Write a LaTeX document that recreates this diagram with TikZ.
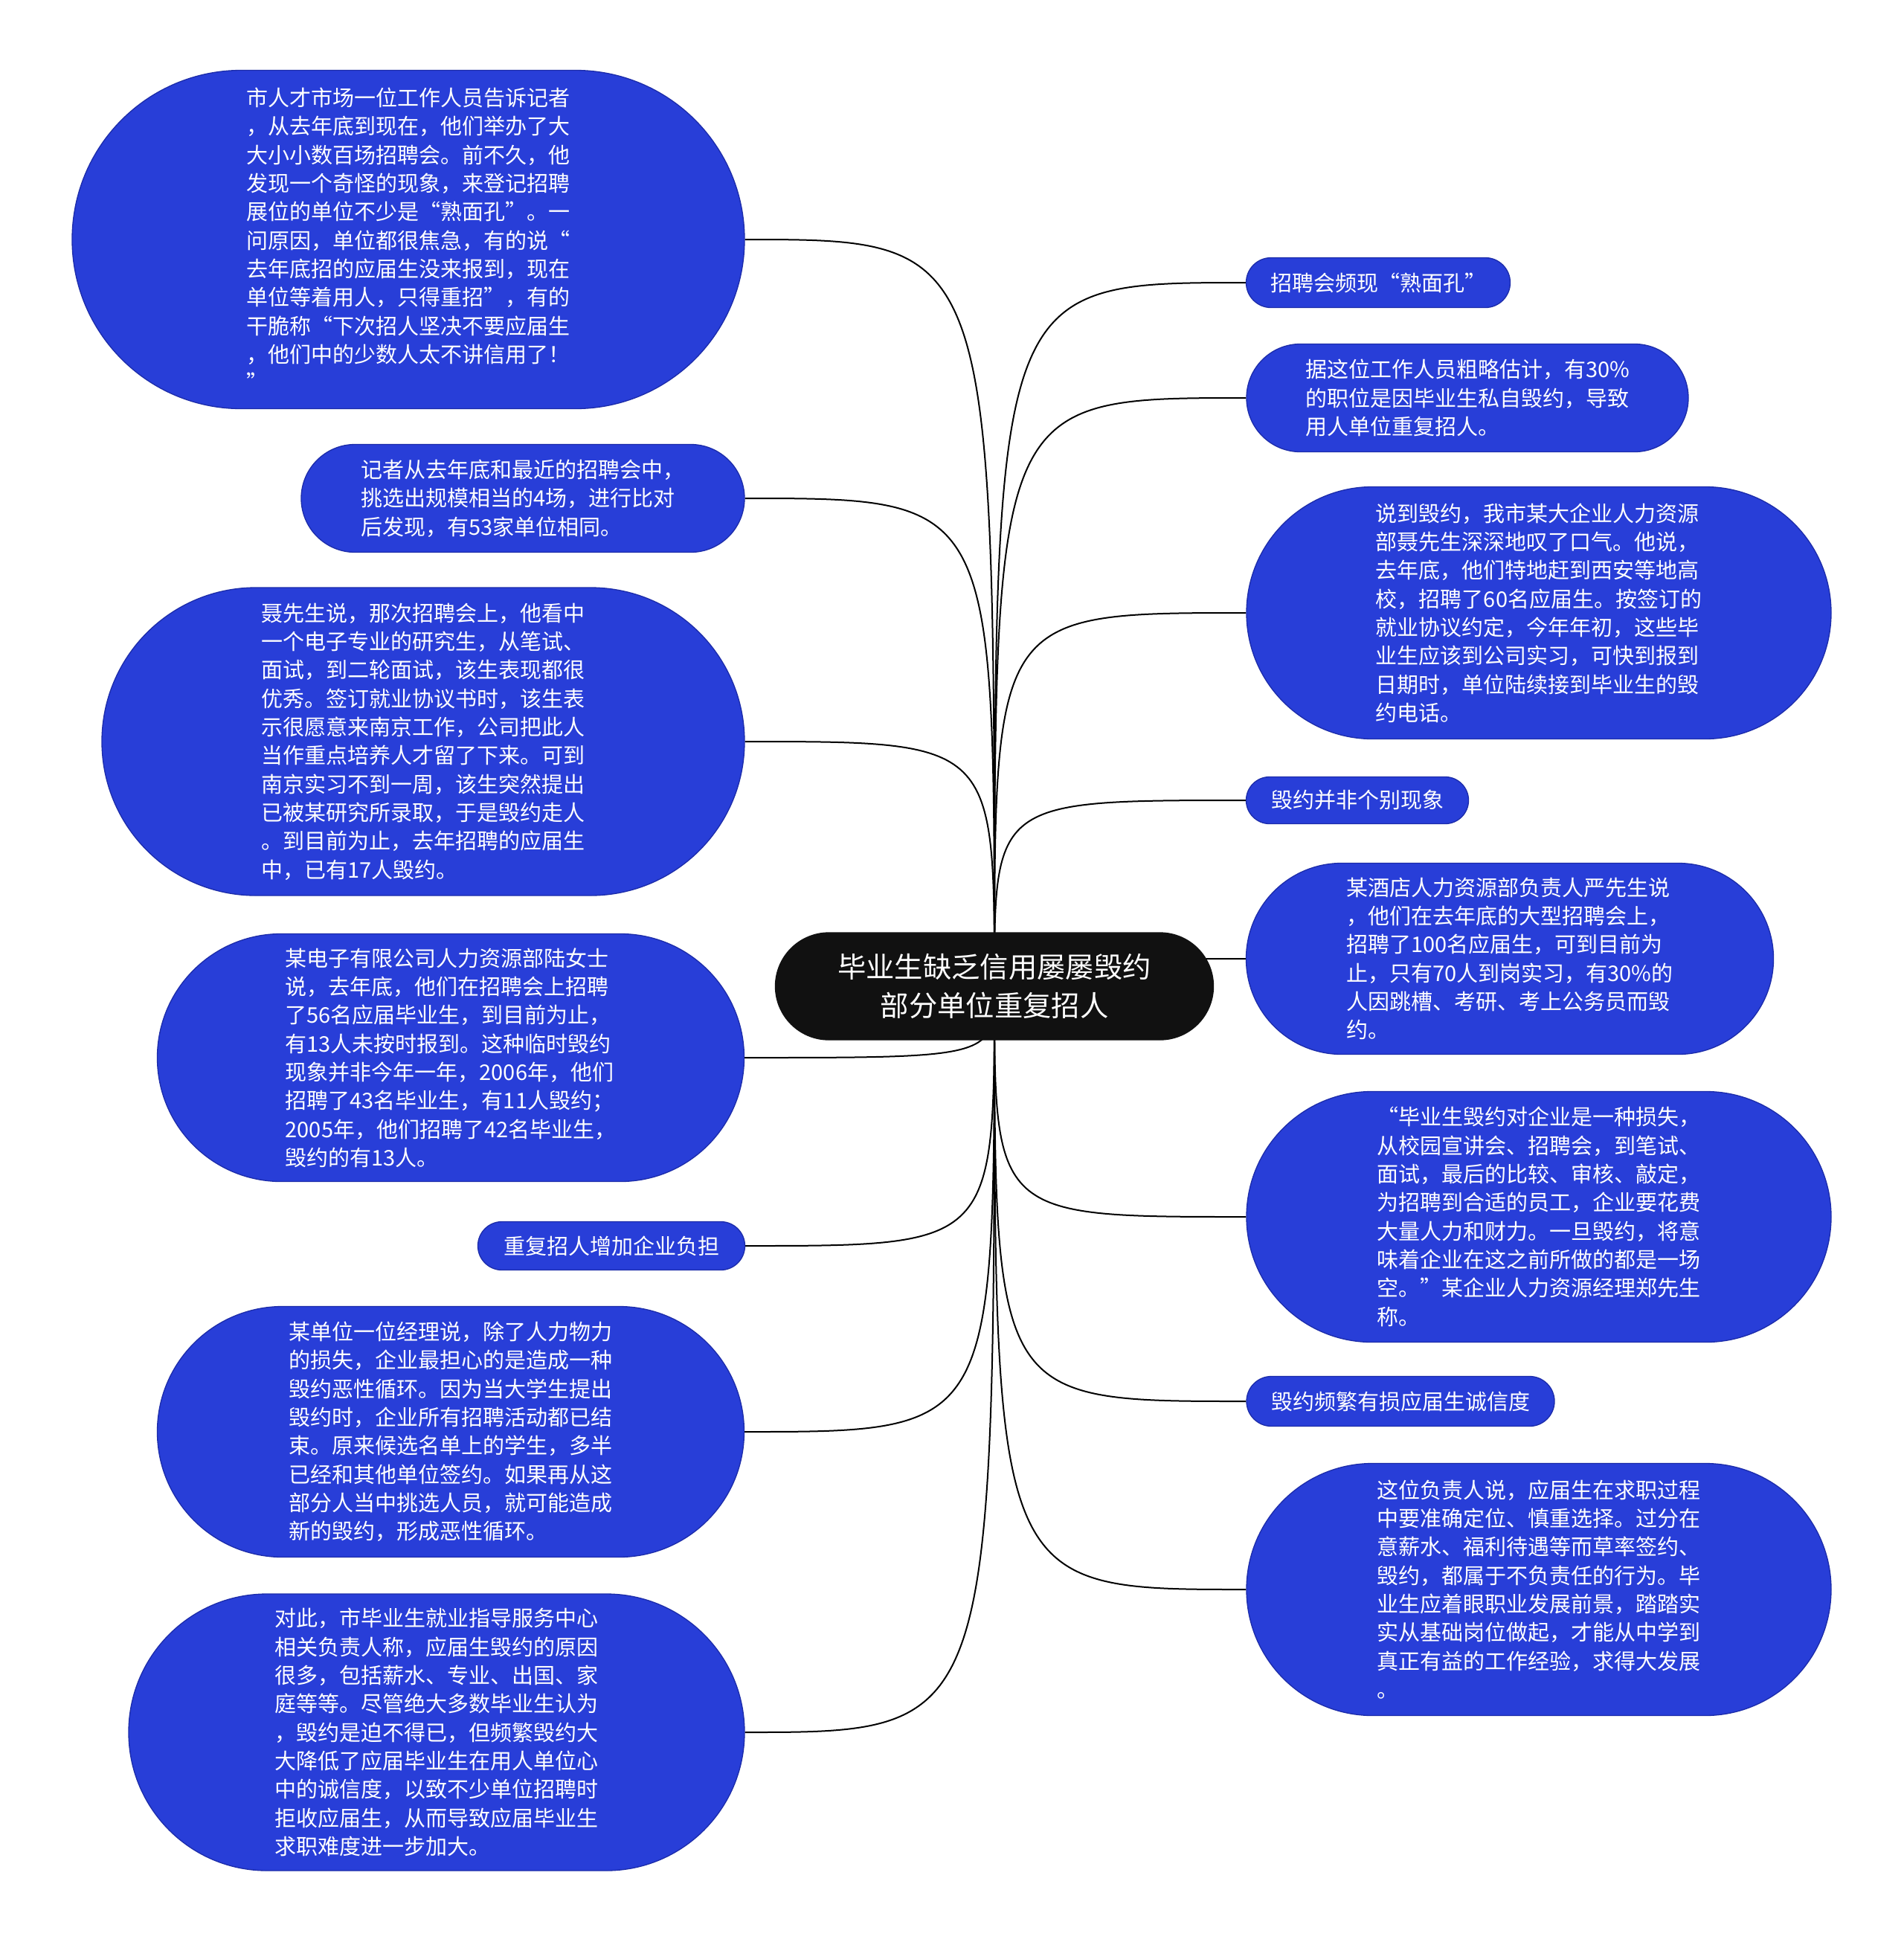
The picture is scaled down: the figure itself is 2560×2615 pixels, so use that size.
\documentclass[tikz,border=0pt]{standalone}
\usepackage{fontspec}
\setmainfont{Noto Sans CJK SC}
\usetikzlibrary{shapes.misc}
\pgfdeclarelayer{bg}
\pgfsetlayers{bg,main}
\definecolor{nodeblue}{RGB}{40,62,216}
\definecolor{nodeedge}{RGB}{28,44,170}
\definecolor{titlebg}{RGB}{17,17,17}
\begin{document}
\begin{tikzpicture}[x=0.3pt,y=-0.3pt,
  boxsize/.style 2 args={minimum width=#1*0.3pt, minimum height=#2*0.3pt},
  leaf/.style={rounded rectangle, fill=nodeblue, draw=nodeedge, line width=0.4pt, text=white, align=left, inner sep=0pt, font=\fontsize{8.7pt}{11.5pt}\selectfont},
  root/.style={rounded rectangle, fill=titlebg, draw=titlebg, text=white, align=center, inner sep=0pt, font=\fontsize{11.5pt}{15.6pt}\selectfont},
  link/.style={draw=black, line width=0.6pt}]
\useasboundingbox (0,0) rectangle (2560,2615);

\node[root, boxsize={589}{144}] (c) at (1337,1326) {毕业生缺乏信用屡屡毁约\\部分单位重复招人};

% left side
\node[leaf, boxsize={904}{455}] (L1) at (549,322) {市人才市场一位工作人员告诉记者\\，从去年底到现在，他们举办了大\\大小小数百场招聘会。前不久，他\\发现一个奇怪的现象，来登记招聘\\展位的单位不少是“熟面孔”。一\\问原因，单位都很焦急，有的说“\\去年底招的应届生没来报到，现在\\单位等着用人，只得重招”，有的\\干脆称“下次招人坚决不要应届生\\，他们中的少数人太不讲信用了！\\”};
\node[leaf, boxsize={596}{145}] (L2) at (703,670) {记者从去年底和最近的招聘会中，\\挑选出规模相当的4场，进行比对\\后发现，有53家单位相同。};
\node[leaf, boxsize={864}{414}] (L3) at (569,997) {聂先生说，那次招聘会上，他看中\\一个电子专业的研究生，从笔试、\\面试，到二轮面试，该生表现都很\\优秀。签订就业协议书时，该生表\\示很愿意来南京工作，公司把此人\\当作重点培养人才留了下来。可到\\南京实习不到一周，该生突然提出\\已被某研究所录取，于是毁约走人\\。到目前为止，去年招聘的应届生\\中，已有17人毁约。};
\node[leaf, boxsize={789}{333}] (L4) at (606,1422) {某电子有限公司人力资源部陆女士\\说，去年底，他们在招聘会上招聘\\了56名应届毕业生，到目前为止，\\有13人未按时报到。这种临时毁约\\现象并非今年一年，2006年，他们\\招聘了43名毕业生，有11人毁约；\\2005年，他们招聘了42名毕业生，\\毁约的有13人。};
\node[leaf, boxsize={359}{65}] (L5) at (822,1675) {重复招人增加企业负担};
\node[leaf, boxsize={789}{337}] (L6) at (606,1925) {某单位一位经理说，除了人力物力\\的损失，企业最担心的是造成一种\\毁约恶性循环。因为当大学生提出\\毁约时，企业所有招聘活动都已结\\束。原来候选名单上的学生，多半\\已经和其他单位签约。如果再从这\\部分人当中挑选人员，就可能造成\\新的毁约，形成恶性循环。};
\node[leaf, boxsize={828}{372}] (L7) at (587,2329) {对此，市毕业生就业指导服务中心\\相关负责人称，应届生毁约的原因\\很多，包括薪水、专业、出国、家\\庭等等。尽管绝大多数毕业生认为\\，毁约是迫不得已，但频繁毁约大\\大降低了应届毕业生在用人单位心\\中的诚信度，以致不少单位招聘时\\拒收应届生，从而导致应届毕业生\\求职难度进一步加大。};

% right side
\node[leaf, boxsize={355}{67}] (R1) at (1853,380) {招聘会频现“熟面孔”};
\node[leaf, boxsize={594}{145}] (R2) at (1973,535) {据这位工作人员粗略估计，有30\%\\的职位是因毕业生私自毁约，导致\\用人单位重复招人。};
\node[leaf, boxsize={786}{339}] (R3) at (2069,824) {说到毁约，我市某大企业人力资源\\部聂先生深深地叹了口气。他说，\\去年底，他们特地赶到西安等地高\\校，招聘了60名应届生。按签订的\\就业协议约定，今年年初，这些毕\\业生应该到公司实习，可快到报到\\日期时，单位陆续接到毕业生的毁\\约电话。};
\node[leaf, boxsize={299}{63}] (R4) at (1825,1076) {毁约并非个别现象};
\node[leaf, boxsize={709}{257}] (R5) at (2030,1289) {某酒店人力资源部负责人严先生说\\，他们在去年底的大型招聘会上，\\招聘了100名应届生，可到目前为\\止，只有70人到岗实习，有30\%的\\人因跳槽、考研、考上公务员而毁\\约。};
\node[leaf, boxsize={786}{337}] (R6) at (2069,1636) {“毕业生毁约对企业是一种损失，\\从校园宣讲会、招聘会，到笔试、\\面试，最后的比较、审核、敲定，\\为招聘到合适的员工，企业要花费\\大量人力和财力。一旦毁约，将意\\味着企业在这之前所做的都是一场\\空。”某企业人力资源经理郑先生\\称。};
\node[leaf, boxsize={414}{67}] (R7) at (1883,1884) {毁约频繁有损应届生诚信度};
\node[leaf, boxsize={786}{339}] (R8) at (2069,2137) {这位负责人说，应届生在求职过程\\中要准确定位、慎重选择。过分在\\意薪水、福利待遇等而草率签约、\\毁约，都属于不负责任的行为。毕\\业生应着眼职业发展前景，踏踏实\\实从基础岗位做起，才能从中学到\\真正有益的工作经验，求得大发展\\。};

\begin{pgfonlayer}{bg}
\foreach \n in {L1,L2,L3,L4,L5,L6,L7}
  \draw[link] (c.center) .. controls (c.center |- \n.east) .. (\n.east);
\foreach \n in {R1,R2,R3,R4,R5,R6,R7,R8}
  \draw[link] (c.center) .. controls (c.center |- \n.west) .. (\n.west);
\end{pgfonlayer}
\end{tikzpicture}
\end{document}
